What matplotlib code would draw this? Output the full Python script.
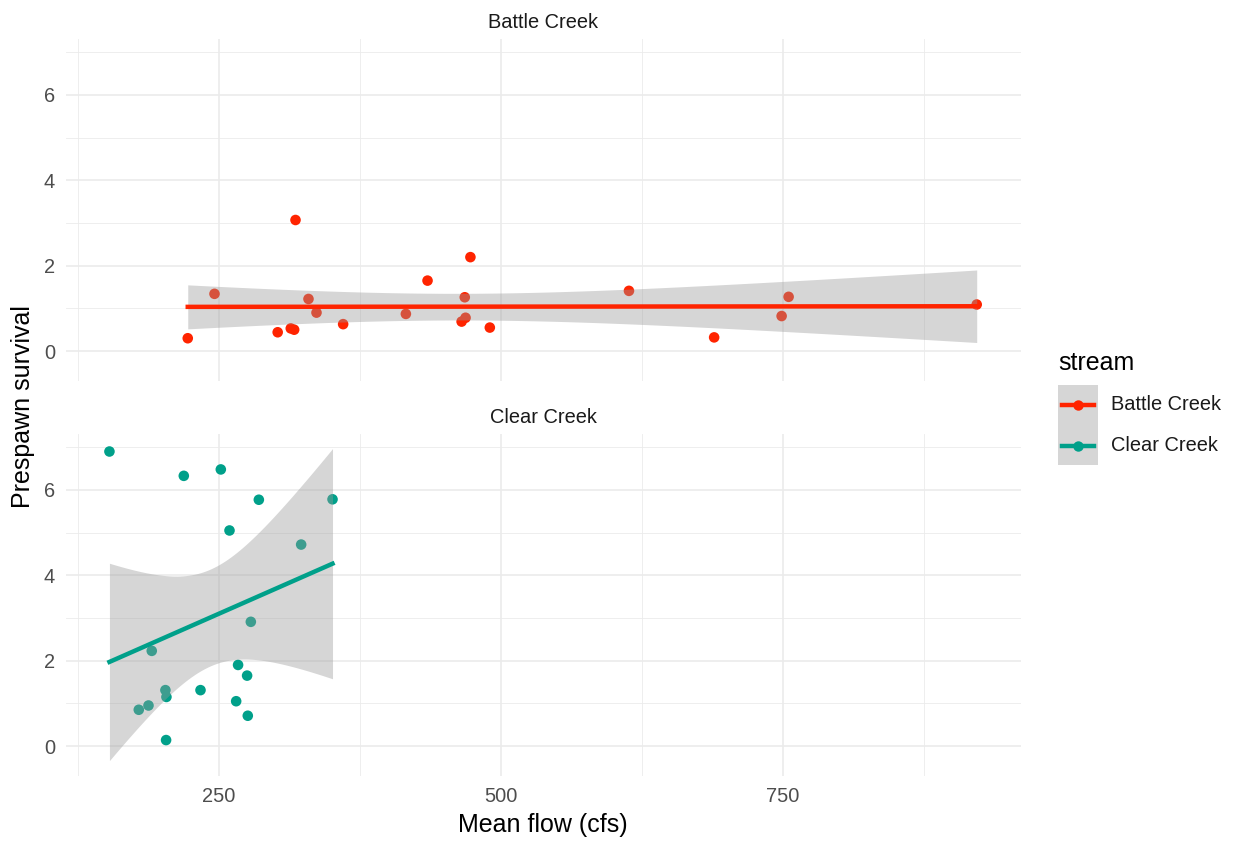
import numpy as np
import matplotlib
matplotlib.use("Agg")
import matplotlib.pyplot as plt
from matplotlib.lines import Line2D
from matplotlib.patches import Rectangle

plt.rcParams['font.family'] = ['Liberation Sans', 'DejaVu Sans']

# data
battle_flow = [222.5, 246.2, 302.2, 313.8, 316.8, 318.0, 329.5, 336.6, 360.2, 415.8,
               435.0, 465.2, 468.0, 468.7, 473.0, 490.2, 613.5, 689.0, 748.8, 755.0, 921.7]
battle_surv = [0.30, 1.34, 0.44, 0.53, 0.50, 3.07, 1.22, 0.90, 0.63, 0.87,
               1.65, 0.69, 1.26, 0.78, 2.20, 0.55, 1.41, 0.32, 0.82, 1.27, 1.09]
clear_flow = [153.1, 219.0, 251.8, 285.5, 350.8, 259.5, 323.0, 278.4, 190.6, 267.1,
              275.1, 202.7, 203.6, 233.8, 265.4, 275.7, 179.1, 187.7, 203.3]
clear_surv = [6.90, 6.33, 6.48, 5.77, 5.78, 5.05, 4.72, 2.91, 2.23, 1.90,
              1.65, 1.31, 1.15, 1.31, 1.05, 0.71, 0.85, 0.95, 0.14]

streams = ['Battle Creek', 'Clear Creek']
colors = {'Battle Creek': '#FF2400', 'Clear Creek': '#00A08A'}
# 97.5% t quantiles for n-2 degrees of freedom
t_crit = {'Battle Creek': 2.093, 'Clear Creek': 2.110}
data = {'Battle Creek': (battle_flow, battle_surv), 'Clear Creek': (clear_flow, clear_surv)}


def lm_fit(x, y, t):
    x = np.asarray(x); y = np.asarray(y)
    n = len(x)
    xm = x.mean()
    sxx = ((x - xm) ** 2).sum()
    b = ((x - xm) * (y - y.mean())).sum() / sxx
    a = y.mean() - b * xm
    s = np.sqrt(((y - a - b * x) ** 2).sum() / (n - 2))
    xs = np.linspace(x.min(), x.max(), 80)
    fit = a + b * xs
    se = s * np.sqrt(1 / n + (xs - xm) ** 2 / sxx)
    return xs, fit, fit - t * se, fit + t * se


W, H = 1238, 844
fig = plt.figure(figsize=(W / 100, H / 100), dpi=100)

panels = [(39, 380.5), (434, 775.5)]
left, right = 66, 1020.5
grid_c = '#EBEBEB'
small = 14.4
big = 18
for i, (stream, (top, bot)) in enumerate(zip(streams, panels)):
    ax = fig.add_axes([left / W, 1 - bot / H, (right - left) / W, (bot - top) / H])
    x, y = data[stream]
    ax.scatter(x, y, s=58, color=colors[stream], edgecolors='none', zorder=3)
    xs, fit, lo, hi = lm_fit(x, y, t_crit[stream])
    ax.fill_between(xs, lo, hi, color='#999999', alpha=0.4, linewidth=0, zorder=4)
    ax.plot(xs, fit, color=colors[stream], linewidth=3.2, zorder=5)

    ax.set_xlim(114.6, 960.5)
    ax.set_ylim(-0.69, 7.31)
    ax.set_xticks([250, 500, 750])
    ax.set_xticks([125, 375, 625, 875], minor=True)
    ax.set_yticks([0, 2, 4, 6])
    ax.set_yticks([1, 3, 5, 7], minor=True)
    ax.grid(True, which='major', color=grid_c, linewidth=1.2, zorder=0)
    ax.grid(True, which='minor', color=grid_c, linewidth=0.6, zorder=0)
    ax.set_axisbelow(True)
    for sp in ax.spines.values():
        sp.set_visible(False)
    ax.tick_params(which='both', length=0, labelsize=small, labelcolor='#4D4D4D', pad=8)
    if i == 0:
        ax.tick_params(labelbottom=False)
    ax.set_title(stream, fontsize=small, color='#1A1A1A', pad=8)

fig.text(543 / W, 1 - 825 / H, 'Mean flow (cfs)', fontsize=big, ha='center', va='center', color='black')
fig.text(23 / W, 1 - 407 / H, 'Prespawn survival', fontsize=big, ha='center', va='center',
         rotation=90, color='black')

# legend drawn by hand to mimic the ggplot key
fig.text(1058 / W, 1 - 363 / H, 'stream', fontsize=big, ha='left', va='center', color='black')
fig.patches.append(Rectangle((1058 / W, 1 - 465 / H), 40 / W, 80 / H, transform=fig.transFigure,
                             facecolor='#D6D6D6', edgecolor='none'))
for j, stream in enumerate(streams):
    yk = 1 - (405 + 41 * j) / H
    fig.lines.append(Line2D([1062 / W, 1094 / W], [yk, yk], transform=fig.transFigure,
                            color=colors[stream], linewidth=3.2))
    fig.lines.append(Line2D([1078 / W], [yk], transform=fig.transFigure, marker='o',
                            markersize=7.5, color=colors[stream], markeredgewidth=0))
    fig.text(1111 / W, yk, stream, fontsize=small, ha='left', va='center', color='#1A1A1A')

fig.savefig('out.png', dpi=100)
